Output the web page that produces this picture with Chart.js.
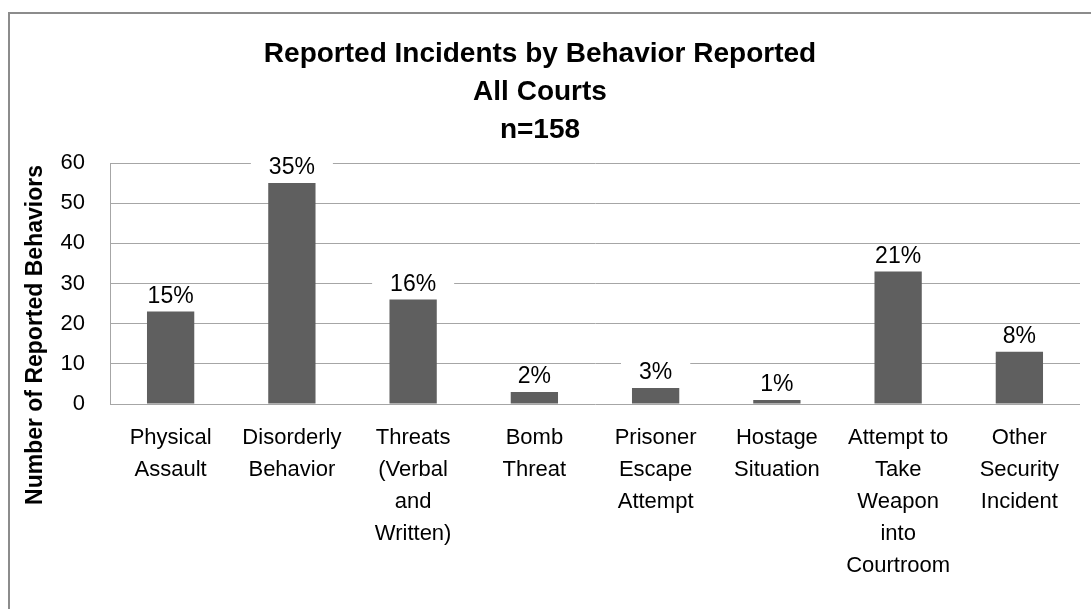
<!DOCTYPE html>
<html>
<head>
<meta charset="utf-8">
<script src="https://cdn.jsdelivr.net/npm/chart.js@4/dist/chart.umd.min.js"></script>
<style>
  body { margin: 0; background: #fff; }
</style>
</head>
<body>
<canvas id="incidentChart" width="1091" height="609"></canvas>
<script>
const categories = [
  ['Physical', 'Assault'],
  ['Disorderly', 'Behavior'],
  ['Threats', '(Verbal', 'and', 'Written)'],
  ['Bomb', 'Threat'],
  ['Prisoner', 'Escape', 'Attempt'],
  ['Hostage', 'Situation'],
  ['Attempt to', 'Take', 'Weapon', 'into', 'Courtroom'],
  ['Other', 'Security', 'Incident']
];
const behaviorCounts = [23, 55, 26, 3, 4, 1, 33, 13];
const percentLabels = ['15%', '35%', '16%', '2%', '3%', '1%', '21%', '8%'];
const yTicks = [0, 10, 20, 30, 40, 50, 60];
const titleLines = ['Reported Incidents by Behavior Reported', 'All Courts', 'n=158'];
const yTitle = 'Number of Reported Behaviors';

const FONT = "'Liberation Sans', Arial, sans-serif";

// outer frame like the excel chart border
const framePlugin = {
  id: 'frame',
  beforeDraw(chart) {
    const c = chart.ctx;
    c.save();
    c.fillStyle = '#fff';
    c.fillRect(0, 0, chart.width, chart.height);
    c.strokeStyle = '#8c8c8c';
    c.lineWidth = 2;
    c.strokeRect(9, 13, chart.width + 20, chart.height + 20);
    c.restore();
  }
};

// percent labels on top of bars, white box cuts the gridlines
const pctPlugin = {
  id: 'pct',
  afterDatasetsDraw(chart) {
    const c = chart.ctx;
    const meta = chart.getDatasetMeta(0);
    c.save();
    c.font = '23px ' + FONT;
    c.textAlign = 'center';
    c.textBaseline = 'middle';
    meta.data.forEach((bar, i) => {
      const txt = percentLabels[i];
      const w = c.measureText(txt).width;
      const y = bar.y - 15;
      c.fillStyle = '#fff';
      c.fillRect(bar.x - w / 2 - 18, y - 12, w + 36, 24);
      c.fillStyle = '#000';
      c.fillText(txt, bar.x, y);
    });
    c.restore();
  }
};

// vertical axis title, placed like in the original
const yTitlePlugin = {
  id: 'ytitle',
  afterDraw(chart) {
    const c = chart.ctx;
    c.save();
    c.translate(36, 335);
    c.rotate(-Math.PI / 2);
    c.font = 'bold 23px ' + FONT;
    c.fillStyle = '#000';
    c.textAlign = 'center';
    c.textBaseline = 'middle';
    c.fillText(yTitle, 0, 0);
    c.restore();
  }
};

const ctx = document.getElementById('incidentChart').getContext('2d');

let incidentChart = new Chart(ctx, {
  type: 'bar',
  data: {
    labels: categories,
    datasets: [{
      data: behaviorCounts,
      backgroundColor: '#5f5f5f',
      borderWidth: 0,
      categoryPercentage: 1,
      barPercentage: 0.39
    }]
  },
  options: {
    responsive: false,
    animation: false,
    layout: { padding: { top: 35, right: 11, bottom: 9, left: 0 } },
    plugins: {
      legend: { display: false },
      tooltip: { enabled: false },
      title: {
        display: true,
        text: titleLines,
        color: '#000',
        font: { family: FONT, size: 28, weight: 'bold', lineHeight: 38 / 28 },
        padding: { top: 0, bottom: 14 }
      }
    },
    scales: {
      x: {
        grid: { display: false, drawTicks: false },
        border: { display: false },
        ticks: {
          color: '#000',
          font: { family: FONT, size: 22, lineHeight: 32 / 22 },
          padding: 18,
          maxRotation: 0,
          autoSkip: false
        }
      },
      y: {
        min: 0,
        max: 60,
        afterFit(scale) { scale.width = 110; },
        afterBuildTicks(scale) { scale.ticks = yTicks.map(v => ({ value: v })); },
        grid: { color: '#a6a6a6', drawTicks: false },
        border: { display: true, color: '#a6a6a6' },
        ticks: {
          color: '#000',
          font: { family: FONT, size: 22 },
          padding: 25
        }
      }
    }
  },
  plugins: [framePlugin, pctPlugin, yTitlePlugin]
});
</script>
</body>
</html>
